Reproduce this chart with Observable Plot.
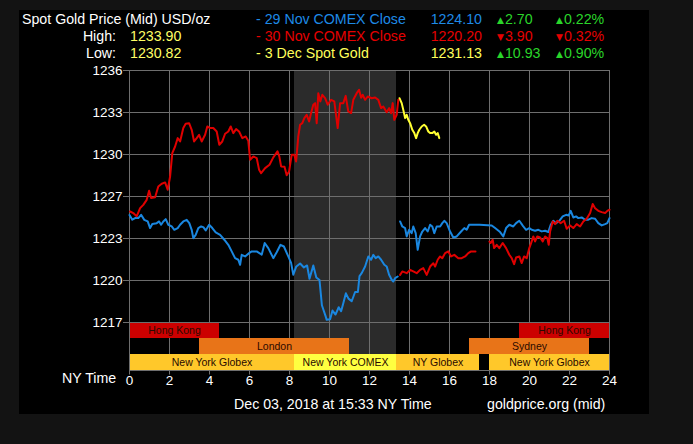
<!DOCTYPE html>
<html><head><meta charset="utf-8">
<script src="https://cdn.jsdelivr.net/npm/d3@7"></script>
<script src="https://cdn.jsdelivr.net/npm/@observablehq/plot@0.6"></script>
<style>
html,body{margin:0;padding:0;background:#131313;width:693px;height:444px;overflow:hidden;font-family:"Liberation Sans",Arial,sans-serif;}
#panel{position:absolute;left:19px;top:10px;width:630px;height:404px;background:#000;}
.t{position:absolute;white-space:nowrap;font-size:14.2px;line-height:17px;}
.r{text-align:right;}
.tri{font-family:"DejaVu Sans",sans-serif;font-size:9px;position:relative;top:-1px;margin-right:1px;}
#c1,#c2{position:absolute;left:0;}
#c1{top:60px} #c2{top:322px}
svg{overflow:visible}
</style></head><body>
<div id="panel"></div>
<div id="hdr"></div>
<div id="c1"></div><div id="c2"></div>
<div class="t" style="left:62px;top:370px;color:#fff">NY Time</div>
<div id="ftr"></div>
<script>
// ---------- data ----------
const seriesNames = ["29 Nov COMEX Close", "30 Nov COMEX Close", "3 Dec Spot Gold"];
const seriesColors = ["#1a87e0", "#e00000", "#ffff33"];

const nov29A = [[0.0,1225.1],[0.14,1224.75],[0.28,1224.87],[0.44,1224.87],[0.58,1225.12],[0.74,1224.74],[0.91,1224.62],[1.03,1224.12],[1.14,1224.42],[1.36,1224.49],[1.48,1224.62],[1.58,1224.37],[1.69,1224.62],[1.81,1224.79],[1.94,1224.37],[2.11,1224.24],[2.24,1223.99],[2.41,1224.12],[2.53,1224.37],[2.69,1224.62],[2.86,1224.74],[2.99,1224.49],[3.11,1223.99],[3.19,1223.36],[3.31,1223.61],[3.44,1224.12],[3.58,1224.24],[3.69,1224.19],[3.81,1223.94],[3.98,1224.37],[4.14,1224.12],[4.31,1223.79],[4.53,1223.61],[4.74,1223.24],[4.94,1222.86],[5.11,1222.36],[5.28,1221.85],[5.44,1221.73],[5.53,1221.35],[5.61,1222.1],[5.78,1221.98],[5.98,1222.23],[6.11,1222.36],[6.36,1222.36],[6.53,1222.2],[6.61,1222.11],[6.76,1222.99],[6.94,1222.61],[7.19,1221.85],[7.36,1222.3],[7.55,1222.86],[7.72,1222.73],[7.94,1221.98],[8.08,1221.5],[8.19,1220.6],[8.33,1221.2],[8.53,1221.45],[8.72,1221.15],[8.88,1221.3],[9.0,1220.3],[9.19,1221.3],[9.34,1220.4],[9.5,1220.2],[9.62,1218.3],[9.8,1217.5],[9.86,1217.2],[10.03,1217.25],[10.15,1217.9],[10.3,1217.6],[10.46,1218.15],[10.58,1217.85],[10.68,1218.4],[10.82,1219.2],[10.95,1218.8],[11.11,1218.6],[11.28,1219.3],[11.42,1219.3],[11.5,1220.5],[11.61,1220.72],[11.78,1221.22],[11.94,1221.98],[12.08,1221.73],[12.19,1222.1],[12.31,1221.85],[12.44,1221.98],[12.58,1221.73],[12.74,1221.35],[12.86,1221.22],[12.98,1220.6],[13.11,1220.22],[13.19,1220.09],[13.28,1220.34],[13.41,1220.47]];
const nov29B = [[13.53,1224.62],[13.64,1224.24],[13.78,1224.12],[13.86,1223.49],[13.98,1223.99],[14.11,1223.74],[14.19,1224.24],[14.31,1223.74],[14.41,1222.48],[14.53,1223.49],[14.64,1223.86],[14.78,1224.12],[14.91,1223.86],[15.03,1224.37],[15.14,1224.24],[15.24,1223.74],[15.36,1224.24],[15.53,1224.24],[15.64,1224.49],[15.74,1224.67],[15.86,1224.49],[16.03,1223.86],[16.19,1223.41],[16.36,1223.49],[16.58,1223.86],[16.74,1224.12],[16.86,1223.99],[16.98,1224.37],[17.5,1224.37],[18.11,1224.32],[18.28,1224.12],[18.53,1223.82],[18.69,1223.49],[18.83,1224.12],[18.99,1224.37],[19.19,1224.24],[19.33,1224.49],[19.49,1224.67],[19.61,1224.42],[19.69,1224.24],[19.83,1223.99],[19.99,1224.12],[20.11,1223.99],[20.28,1223.92],[20.44,1223.99],[20.61,1223.87],[20.78,1223.92],[20.94,1223.82],[21.06,1224.37],[21.19,1224.67],[21.33,1224.49],[21.49,1224.67],[21.66,1225.0],[21.83,1225.12],[21.96,1225.07],[22.06,1225.42],[22.19,1224.92],[22.33,1225.0],[22.44,1224.87],[22.61,1224.92],[22.78,1224.75],[22.94,1224.75],[23.11,1224.87],[23.28,1224.82],[23.44,1224.49],[23.61,1224.32],[23.78,1224.42],[23.89,1224.49],[24.0,1224.87]];

const nov30A = [[0.03,1225.37],[0.19,1225.25],[0.36,1225.0],[0.53,1225.62],[0.69,1225.87],[0.86,1226.25],[0.98,1226.93],[1.08,1226.38],[1.28,1226.45],[1.44,1227.26],[1.61,1227.46],[1.78,1227.56],[1.91,1227.01],[2.03,1228.01],[2.14,1229.77],[2.28,1230.27],[2.41,1230.9],[2.53,1230.65],[2.69,1231.66],[2.81,1231.98],[2.98,1232.03],[3.11,1231.53],[3.23,1230.65],[3.36,1230.9],[3.48,1231.15],[3.61,1230.65],[3.78,1231.15],[3.89,1231.78],[4.03,1231.66],[4.19,1231.66],[4.36,1231.4],[4.49,1230.4],[4.64,1230.65],[4.78,1231.23],[4.94,1231.4],[5.06,1231.78],[5.19,1231.28],[5.33,1231.58],[5.48,1231.4],[5.64,1230.9],[5.81,1231.03],[5.94,1230.7],[6.03,1229.27],[6.19,1229.52],[6.36,1229.4],[6.48,1228.51],[6.58,1228.26],[6.78,1228.64],[7.0,1228.9],[7.19,1229.45],[7.4,1229.9],[7.49,1229.52],[7.58,1228.77],[7.75,1228.75],[7.86,1228.1],[7.98,1228.39],[8.11,1229.65],[8.24,1229.65],[8.33,1229.14],[8.44,1231.03],[8.53,1231.91],[8.64,1232.03],[8.74,1232.41],[8.86,1232.66],[8.98,1232.16],[9.08,1232.79],[9.19,1233.42],[9.28,1233.54],[9.36,1232.03],[9.44,1234.29],[9.54,1233.67],[9.64,1234.17],[9.78,1233.92],[9.91,1233.42],[10.08,1233.79],[10.24,1233.67],[10.41,1231.66],[10.53,1233.54],[10.69,1233.54],[10.81,1234.09],[10.94,1232.91],[11.08,1232.79],[11.19,1233.79],[11.36,1234.29],[11.48,1234.55],[11.58,1233.95],[11.66,1234.17],[11.78,1233.79],[11.91,1234.04],[12.11,1233.91],[12.28,1233.96],[12.44,1233.79],[12.58,1233.16],[12.69,1233.29],[12.86,1232.86],[12.98,1233.16],[13.08,1232.78],[13.16,1233.54],[13.24,1232.28],[13.36,1232.66],[13.44,1233.79]];
const nov30B = [[13.53,1220.59],[13.64,1220.85],[13.86,1220.72],[14.03,1220.97],[14.19,1220.85],[14.36,1220.72],[14.53,1220.97],[14.69,1221.1],[14.86,1220.59],[15.03,1221.22],[15.19,1221.47],[15.28,1221.22],[15.41,1221.73],[15.53,1221.98],[15.64,1221.85],[15.78,1222.23],[15.94,1222.36],[16.08,1221.98],[16.24,1222.1],[16.44,1221.85],[16.61,1221.85],[16.78,1221.98],[16.94,1222.23],[17.08,1222.36],[17.3,1222.36]];
const nov30C = [[18.0,1223.1],[18.06,1222.99],[18.16,1223.24],[18.23,1222.61],[18.36,1222.86],[18.49,1222.61],[18.66,1222.99],[18.83,1222.61],[18.99,1222.11],[19.11,1221.85],[19.23,1221.4],[19.33,1221.9],[19.49,1221.98],[19.61,1221.48],[19.73,1221.98],[19.86,1221.85],[19.99,1222.61],[20.11,1223.11],[20.19,1223.49],[20.28,1223.11],[20.39,1223.49],[20.53,1223.41],[20.66,1223.11],[20.78,1223.49],[20.89,1223.36],[20.96,1222.86],[21.03,1223.87],[21.16,1224.62],[21.28,1224.42],[21.39,1224.67],[21.56,1224.49],[21.73,1224.67],[21.86,1224.07],[22.03,1224.32],[22.19,1224.12],[22.36,1224.42],[22.53,1224.24],[22.69,1224.62],[22.86,1224.82],[23.03,1225.25],[23.16,1225.93],[23.28,1225.62],[23.44,1225.42],[23.61,1225.32],[23.78,1225.25],[23.89,1225.42],[24.0,1225.5]];

const dec3 = [[13.5,1233.91],[13.61,1233.54],[13.69,1233.03],[13.78,1232.41],[13.86,1232.66],[13.94,1232.28],[14.03,1232.03],[14.14,1231.53],[14.24,1231.28],[14.33,1230.9],[14.41,1231.28],[14.49,1231.53],[14.61,1231.78],[14.73,1231.91],[14.83,1231.78],[14.94,1231.4],[15.03,1231.28],[15.14,1231.28],[15.24,1231.4],[15.33,1231.15],[15.41,1231.28],[15.49,1230.9]];

const xTicks = [0,2,4,6,8,10,12,14,16,18,20,22,24];
const yTicks = [1217, 1220.1667, 1223.3333, 1226.5, 1229.6667, 1232.8333, 1236];
const yTickLabels = ["1217","1220","1223","1227","1230","1233","1236"];

const comexWindow = [{start: 8.25, end: 13.35}];

const sessionNames = ["Hong Kong","Hong Kong","London","Sydney","New York Globex","New York COMEX","NY Globex","New York Globex"];
const sessionRows  = ["HK","HK","EU","EU","NY","NY","NY","NY"];
const sessionKind  = ["Hong Kong","Hong Kong","London","Sydney","Globex","COMEX","Globex","Globex"];
const sessionStart = [0, 19.5, 3.5, 17, 0, 8.25, 13.35, 18];
const sessionEnd   = [4.5, 24, 11, 23, 8.25, 13.35, 17.5, 24];
const rowOrder = ["HK","EU","NY"];
const kindDomain = ["Hong Kong","London","Sydney","Globex","COMEX"];
const kindColors = ["#cc0000","#e87418","#ffc82a","#ffff40"];

const legendLabels  = ["- 29 Nov COMEX Close","- 30 Nov COMEX Close","- 3 Dec Spot Gold"];
const legendCloses  = ["1224.10","1220.20","1231.13"];
const legendChanges = ["2.70","3.90","10.93"];
const legendPcts    = ["0.22%","0.32%","0.90%"];
const legendUp      = [true, false, true];
const legendText    = ["#1e8ae6","#e60000","#ffff5a"];
const highLow = [["High:","1233.90"],["Low:","1230.82"]];

// ---------- header ----------
const green = "#2ad52a", red = "#e60000";
const rowTop = [10.7, 27.7, 44.7];
let h = `<div class="t" style="left:22px;top:${rowTop[0]}px;color:#fff">Spot Gold Price (Mid) USD/oz</div>`;
highLow.forEach(([lab,val],i)=>{
  h += `<div class="t r" style="left:50px;width:66px;top:${rowTop[i+1]}px;color:#fff">${lab}</div>`;
  h += `<div class="t" style="left:130px;top:${rowTop[i+1]}px;color:#ffff66">${val}</div>`;
});
legendLabels.forEach((lab,i)=>{
  const c = legendUp[i] ? green : red, tri = legendUp[i] ? "▲" : "▼";
  h += `<div class="t" style="left:256px;top:${rowTop[i]}px;color:${legendText[i]}">${lab}</div>`;
  h += `<div class="t r" style="left:402px;width:80px;top:${rowTop[i]}px;color:${legendText[i]}">${legendCloses[i]}</div>`;
  h += `<div class="t" style="left:497px;top:${rowTop[i]}px;color:${c}"><span class="tri">${tri}</span>${legendChanges[i]}</div>`;
  h += `<div class="t" style="left:556px;top:${rowTop[i]}px;color:${c}"><span class="tri">${tri}</span>${legendPcts[i]}</div>`;
});
document.getElementById("hdr").innerHTML = h;
document.getElementById("ftr").innerHTML =
  `<div class="t" style="left:234px;top:395.7px;color:#fff">Dec 03, 2018 at 15:33 NY Time</div>` +
  `<div class="t" style="left:487px;top:395.7px;color:#fff">goldprice.org (mid)</div>`;

// ---------- chart ----------
const segs = [
  {series: seriesNames[0], id: "a", pts: nov29A},
  {series: seriesNames[0], id: "b", pts: nov29B},
  {series: seriesNames[1], id: "a", pts: nov30A},
  {series: seriesNames[1], id: "b", pts: nov30B},
  {series: seriesNames[1], id: "c", pts: nov30C},
  {series: seriesNames[2], id: "a", pts: dec3}
];
const lineData = segs.flatMap(s => s.pts.map(([hr, v]) => ({series: s.series, seg: s.series + s.id, hr, v})));
const yLabel = new Map(yTicks.map((t, i) => [t, yTickLabels[i]]));
const font = '"Liberation Sans", Arial, sans-serif';
const grid = "#6e6e6e";

const c1 = Plot.plot({
  width: 693, height: 263, marginTop: 10, marginBottom: 1, marginLeft: 129, marginRight: 84,
  style: {background: "transparent", color: "#fff", fontFamily: font, fontSize: "13.5px", overflow: "visible"},
  x: {domain: [0, 24], axis: null},
  y: {domain: [1217, 1236]},
  color: {domain: seriesNames, range: seriesColors},
  marks: [
    Plot.barX(comexWindow, {x1: "start", x2: "end", fill: "#2b2b2b"}),
    Plot.gridX(xTicks, {stroke: grid, strokeOpacity: 1}),
    Plot.gridY(yTicks, {stroke: grid, strokeOpacity: 1}),
    Plot.axisY(yTicks, {tickSize: 6, tickPadding: 1, stroke: grid, fill: "#fff", tickFormat: d => yLabel.get(d), label: null}),
    Plot.line(lineData, {x: "hr", y: "v", z: "seg", stroke: "series", strokeWidth: 2, strokeLinejoin: "round", sort: {channel: "stroke"}})
  ]
});
document.getElementById("c1").appendChild(c1);

const sessions = sessionNames.map((name, i) => ({name, row: sessionRows[i], kind: sessionKind[i], start: sessionStart[i], end: sessionEnd[i]}));
const c2 = Plot.plot({
  width: 693, height: 73, marginTop: 0, marginBottom: 25, marginLeft: 129, marginRight: 84,
  style: {background: "transparent", color: "#fff", fontFamily: font, fontSize: "13.5px", overflow: "visible"},
  x: {domain: [0, 24], axis: null},
  y: {domain: rowOrder, padding: 0, axis: null},
  color: {domain: kindDomain, range: [kindColors[0], kindColors[1], kindColors[1], kindColors[2], kindColors[3]]},
  marks: [
    Plot.barX(comexWindow, {x1: "start", x2: "end", fill: "#2b2b2b"}),
    Plot.gridX(xTicks, {stroke: grid, strokeOpacity: 1}),
    Plot.barX(sessions, {x1: "start", x2: "end", y: "row", fill: "kind"}),
    Plot.text(sessions, {x: d => (d.start + d.end) / 2, y: "row", text: "name", fill: "#2a0a00", fontSize: 10.5}),
    Plot.frame({stroke: grid}),
    Plot.axisX(xTicks, {tickSize: 4.5, tickPadding: 0.5, stroke: grid, fill: "#fff", label: null})
  ]
});
document.getElementById("c2").appendChild(c2);
</script>
</body></html>
